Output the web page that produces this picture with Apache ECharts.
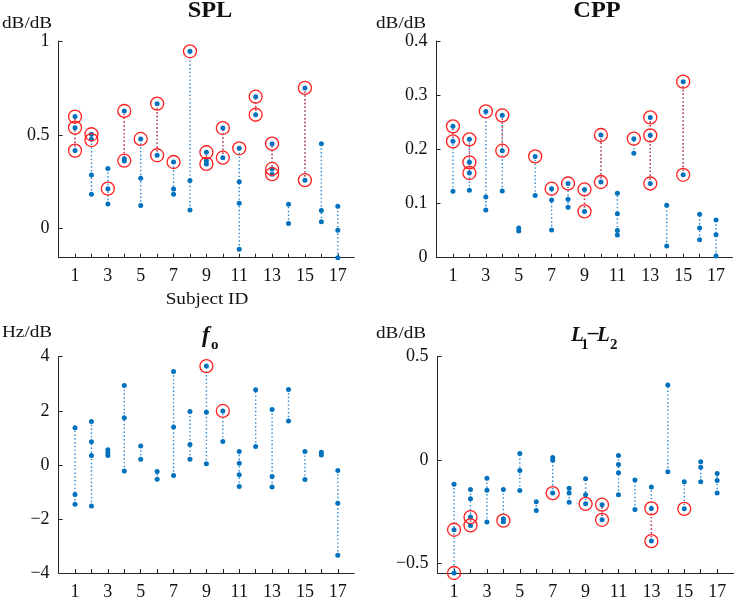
<!DOCTYPE html>
<html><head><meta charset="utf-8">
<script src="https://cdn.jsdelivr.net/npm/echarts@6/dist/echarts.min.js"></script>
<style>html,body{margin:0;padding:0;background:#fff}#c{width:736px;height:601px}</style>
</head><body><div id="c"></div>
<script>
const subjects = [1,2,3,4,5,6,7,8,9,10,11,12,13,14,15,16,17];
const xLabelTicks = [1,3,5,7,9,11,13,15,17];

const splValues = [
 [0.597,0.538,0.416],[0.503,0.476,0.286,0.183],[0.321,0.213,0.131],[0.627,0.373,0.361],
 [0.478,0.268,0.123],[0.666,0.391],[0.355,0.211,0.183],[0.945,0.256,0.099],
 [0.407,0.362,0.345],[0.536,0.378],[0.428,0.250,0.135,-0.110],[0.703,0.607],
 [0.453,0.318,0.290],[0.130,0.027],[0.750,0.258],[0.453,0.096,0.036],[0.119,-0.009,-0.155]
];
const splCircled = [
 [0.597,0.538,0.416],[0.503,0.472],[0.213],[0.627,0.362],[0.478],[0.666,0.391],[0.355],[0.945],
 [0.407,0.345],[0.536,0.378],[0.428],[0.703,0.607],[0.453,0.318,0.290],[],[0.750,0.258],[],[]
];
const splRed = [[1,0.416,0.597],[2,0.476,0.503],[4,0.361,0.627],[6,0.391,0.666],[9,0.345,0.407],
 [10,0.378,0.536],[12,0.607,0.703],[13,0.290,0.453],[15,0.258,0.750]];

const cppValues = [
 [0.2425,0.2148,0.1225],[0.2185,0.176,0.1563,0.1243],[0.270,0.112,0.088],[0.2628,0.1975,0.123],
 [0.0548,0.0492],[0.187,0.115],[0.1274,0.1065,0.051],[0.137,0.1077,0.093],
 [0.126,0.0855],[0.2265,0.1397],[0.119,0.081,0.050,0.042],[0.2197,0.1926],
 [0.259,0.2258,0.137],[0.0966,0.0215],[0.325,0.153],[0.080,0.0548,0.0332],[0.0695,0.0425,0.003]
];
const cppCircled = [
 [0.2425,0.2148],[0.2185,0.176,0.1563],[0.270],[0.2628,0.1975],[],[0.187],[0.1274],[0.137],
 [0.126,0.0855],[0.2265,0.1397],[],[0.2197],[0.259,0.2258,0.137],[],[0.325,0.153],[],[]
];
const cppRed = [[1,0.2148,0.2425],[2,0.1563,0.2185],[4,0.1975,0.2628],[9,0.0855,0.126],
 [10,0.1397,0.2265],[13,0.137,0.259],[15,0.153,0.325]];

const f0Values = [
 [1.375,-1.10,-1.46],[1.60,0.855,0.347,-1.52],[0.557,0.446,0.347],[2.935,1.746,-0.223],
 [0.693,0.21],[-0.248,-0.532],[3.455,1.40,-0.396],[1.97,0.755,0.21],
 [3.653,1.944,0.037],[1.994,0.867],[0.495,0.062,-0.37,-0.805],[2.774,0.681],
 [2.043,-0.433,-0.817],[2.786,1.622],[0.495,-0.545],[0.47,0.36],[-0.21,-1.424,-3.344]
];
const f0Circled = [[],[],[],[],[],[],[],[],[3.653],[1.994],[],[],[],[],[],[],[]];
const f0Red = [];

const l12Values = [
 [-0.116,-0.336,-0.545],[-0.141,-0.186,-0.275,-0.315],[-0.087,-0.145,-0.299],[-0.141,-0.283,-0.297],
 [0.032,-0.050,-0.146],[-0.201,-0.243],[0.013,0.0,-0.159],[-0.135,-0.158,-0.203],
 [-0.090,-0.167,-0.211],[-0.215,-0.288],[0.0225,-0.021,-0.061,-0.167],[-0.096,-0.238],
 [-0.129,-0.233,-0.391],[0.363,-0.056],[-0.1045,-0.235],[-0.008,-0.034,-0.1045],[-0.064,-0.098,-0.158]
];
const l12Circled = [[-0.336,-0.545],[-0.275,-0.315],[],[-0.292],[],[],[-0.159],[],[-0.211],
 [-0.215,-0.288],[],[],[-0.233,-0.391],[],[-0.235],[],[]];
const l12Red = [[2,-0.315,-0.275],[10,-0.288,-0.215],[13,-0.391,-0.233]];

const yTickSPL = [0,0.5,1], yTickCPP = [0,0.1,0.2,0.3,0.4], yTickF0 = [-4,-2,0,2,4], yTickL12 = [-0.5,0,0.5];

const FONT = '"Liberation Serif", "Times New Roman", serif';
const BLUE = '#0072BD', BLUELINE = '#2a86d6', RED = '#ff2020', REDLINE = '#ea3d46', AX = '#262626';

const panels = [
 {values:splValues, circled:splCircled, red:splRed, ticks:yTickSPL, min:-0.155, max:1,
  grid:{left:58.6, top:41, width:295.6, height:216.7}},
 {values:cppValues, circled:cppCircled, red:cppRed, ticks:yTickCPP, min:0, max:0.4,
  grid:{left:436.5, top:41, width:296, height:216.7}},
 {values:f0Values, circled:f0Circled, red:f0Red, ticks:yTickF0, min:-4, max:4,
  grid:{left:58.6, top:356.7, width:295.6, height:216.6}},
 {values:l12Values, circled:l12Circled, red:l12Red, ticks:yTickL12, min:-0.545, max:0.5,
  grid:{left:437.6, top:356.7, width:296, height:216.6}}
];

const fmt = v => String(+v.toFixed(3)).replace('-', '\u2212');

const grids = [], xAxes = [], yAxes = [], series = [];
function segRender(color) {
  return function (params, api) {
    const p1 = api.coord([api.value(0), api.value(1)]);
    const p2 = api.coord([api.value(0), api.value(2)]);
    return {type:'line', shape:{x1:p1[0], y1:p1[1], x2:p2[0], y2:p2[1]},
      style:{stroke:color, lineWidth:1.4, lineDash:[1.4,2.4]}};
  };
}
panels.forEach((p, i) => {
  grids.push(Object.assign({containLabel:false}, p.grid));
  xAxes.push({type:'value', gridIndex:i, min:0, max:18,
    axisLine:{show:true, onZero:false, lineStyle:{color:AX, width:1}},
    axisTick:{show:true, inside:true, length:4, customValues:subjects, lineStyle:{color:AX}},
    axisLabel:{customValues:xLabelTicks, fontFamily:FONT, fontSize:18, color:'#111', margin:10},
    splitLine:{show:false}});
  yAxes.push({type:'value', gridIndex:i, min:p.min, max:p.max,
    axisLine:{show:true, onZero:false, lineStyle:{color:AX, width:1}},
    axisTick:{show:true, inside:true, length:4, customValues:p.ticks, lineStyle:{color:AX}},
    axisLabel:{customValues:p.ticks, formatter:fmt, fontFamily:FONT, fontSize:18, color:'#111', margin:9},
    splitLine:{show:false}});
  const blueSeg = subjects.map((s, k) => [s, Math.min(...p.values[k]), Math.max(...p.values[k])]);
  series.push({type:'custom', xAxisIndex:i, yAxisIndex:i, renderItem:segRender(BLUELINE),
    data:blueSeg, encode:{x:0, y:[1,2]}, z:1, silent:true});
  series.push({type:'custom', xAxisIndex:i, yAxisIndex:i, renderItem:segRender(REDLINE),
    data:p.red, encode:{x:0, y:[1,2]}, z:2, silent:true});
  const dots = [];
  subjects.forEach((s, k) => p.values[k].forEach(v => dots.push([s, v])));
  series.push({type:'scatter', xAxisIndex:i, yAxisIndex:i, data:dots, symbol:'circle', symbolSize:5,
    itemStyle:{color:BLUE, opacity:1}, z:3, silent:true});
  const circ = [];
  subjects.forEach((s, k) => p.circled[k].forEach(v => circ.push([s, v])));
  series.push({type:'scatter', xAxisIndex:i, yAxisIndex:i, data:circ, symbol:'circle', symbolSize:13,
    itemStyle:{color:'rgba(0,0,0,0)', borderColor:RED, borderWidth:1.3, opacity:1}, z:4, silent:true});
});

function txt(text, x, y, font, align, sx) {
  return {type:'text', x:x, y:y, scaleX:sx || 1, silent:true,
    style:{text:text, font:font, fill:'#111', textAlign:align || 'left', textVerticalAlign:'middle'}};
}
const N16 = 'normal 16px ' + FONT;
const graphics = [
  txt('SPL', 210, 11, 'bold 23px ' + FONT, 'center', 1.06),
  txt('CPP', 597, 11, 'bold 23px ' + FONT, 'center', 1.06),
  txt('dB/dB', 2, 24, N16, 'left', 1.2),
  txt('dB/dB', 376, 24, N16, 'left', 1.2),
  txt('Subject ID', 207, 300, N16, 'center', 1.2),
  txt('Hz/dB', 2, 333, N16, 'left', 1.2),
  txt('dB/dB', 376, 334, N16, 'left', 1.2),
  txt('f', 202, 336, 'italic bold 23px ' + FONT),
  txt('o', 211, 345, 'bold 15px ' + FONT),
  txt('L', 571, 336, 'italic bold 21px ' + FONT),
  txt('1', 581, 345, 'bold 15px ' + FONT),
  txt('\u2013', 588, 334, 'italic bold 21px ' + FONT),
  txt('L', 597, 336, 'italic bold 21px ' + FONT),
  txt('2', 610, 345, 'bold 15px ' + FONT)
];

const chart = echarts.init(document.getElementById('c'), null, {renderer:'canvas'});
chart.setOption({animation:false, backgroundColor:'#fff', grid:grids, xAxis:xAxes, yAxis:yAxes,
  series:series, graphic:graphics});
</script></body></html>
